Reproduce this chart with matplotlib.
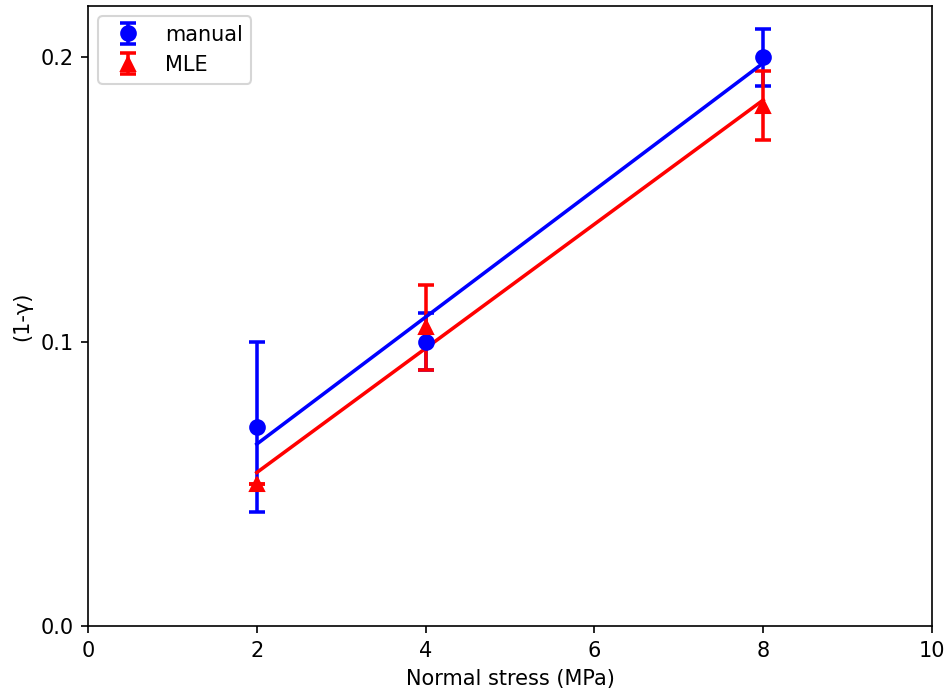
import numpy as np
import matplotlib
matplotlib.use('Agg')
import matplotlib.pyplot as plt

# normal stress levels (MPa)
stress = [2, 4, 8]

# manual estimates of (1-gamma) with error
manual_y = [0.07, 0.10, 0.20]
manual_err = [0.03, 0.01, 0.01]

# MLE estimates with error
mle_y = [0.05, 0.105, 0.183]
mle_err = [0.0, 0.015, 0.012]

# linear fits (slope, intercept)
manual_fit = (0.02233, 0.0193)
mle_fit = (0.02183, 0.0103)

fig = plt.figure(figsize=(950 / 150, 693 / 150), dpi=150)
ax = fig.add_axes([88 / 950, 1 - 626 / 693, (932 - 88) / 950, (626 - 6) / 693])

ax.errorbar(stress, manual_y, yerr=manual_err, fmt='o', color='blue',
            ms=7, elinewidth=1.7, capsize=4, capthick=1.7, label='manual')
ax.errorbar(stress, mle_y, yerr=mle_err, fmt='^', color='red',
            ms=7, elinewidth=1.7, capsize=4, capthick=1.7, label='MLE')

xs = np.array([stress[0], stress[-1]])
ax.plot(xs, manual_fit[0] * xs + manual_fit[1], color='blue', lw=1.7)
ax.plot(xs, mle_fit[0] * xs + mle_fit[1], color='red', lw=1.7)

ax.set_xlim(0, 10)
ax.set_ylim(0, 0.218)
ax.set_xticks([0, 2, 4, 6, 8, 10])
ax.set_yticks([0.0, 0.1, 0.2])
ax.set_xlabel('Normal stress (MPa)')
ax.set_ylabel('(1-γ)')
ax.legend(loc='upper left')

fig.savefig('out.png', dpi=150)
